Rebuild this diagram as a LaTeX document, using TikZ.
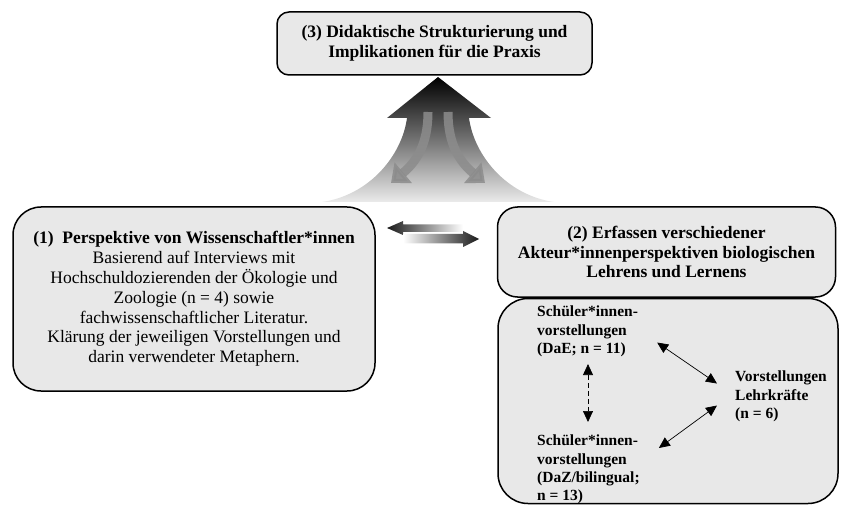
\documentclass[tikz,border=0pt]{standalone}
\usepackage{fontspec}
\setmainfont{Liberation Serif}
\usetikzlibrary{arrows.meta, calc, positioning}

\begin{document}
\begin{tikzpicture}[x=1pt, y=-1pt]
    % Setup the styles for the boxes
        \tikzset{box style/.style={draw, rounded corners=#1,
                                   line width=1.5pt,
                                   fill=black!9,
                                   inner sep=0pt,
                                   align=center,
                                   font=\fontsize{17.5}{19.8}\selectfont},
                 label style/.style={inner sep=0pt,
                                     align=left,
                                     font=\fontsize{15.5}{18.3}\selectfont\bfseries},
                 link style/.style={line width=0.7pt,
                                    {Triangle[length=11pt,width=10pt]}-{Triangle[length=11pt,width=10pt]}},
                 bend arrow/.style={line width=9pt, draw=black!45, opacity=0.85,
                                    -{Triangle[length=16pt,width=26pt]}}}
        \useasboundingbox (0,0) rectangle (841,505);
        % Big arrow behind the top box
        \shade[top color=black, bottom color=black!8, middle color=black!55]
            (322,202) .. controls (370,195) and (402,155) .. (407,118)
            -- (387,118) -- (438,77) -- (491,118) -- (469,118)
            .. controls (474,155) and (506,195) .. (554,202) -- cycle;
        \draw[bend arrow] (428,112) .. controls (428,145) and (416,162) .. (391,183);
        \draw[bend arrow] (448,112) .. controls (448,145) and (460,162) .. (485,183);
        % Draw the boxes
        \node[box style=12pt, minimum width=315pt, minimum height=63pt]
            at (434.5,43.5) (praxis)
            {\bfseries (3) Didaktische Strukturierung und\\
             \bfseries Implikationen für die Praxis};
        \node[box style=28pt, minimum width=362pt, minimum height=184pt]
            at (194,299) (wiss)
            {\bfseries (1)\enspace Perspektive von Wissenschaftler*innen\\
             Basierend auf Interviews mit\\
             Hochschuldozierenden der Ökologie und\\
             Zoologie (n = 4) sowie\\
             fachwissenschaftlicher Literatur.\\
             Klärung der jeweiligen Vorstellungen und\\
             darin verwendeter Metaphern.};
        \node[box style=20pt, minimum width=338pt, minimum height=90pt]
            at (666.5,252) (akteur)
            {\bfseries (2) Erfassen verschiedener\\
             \bfseries Akteur*innenperspektiven biologischen\\
             \bfseries Lehrens und Lernens};
        \node[box style=30pt, minimum width=340pt, minimum height=205pt]
            at (668,401) (inner) {};
        % Two block arrows between (1) and (2)
        \shade[left color=black!90, right color=white]
            (387,228) -- (403,221) -- (403,224.5) -- (463,224.5)
            -- (463,232) -- (403,232) -- (403,235) -- cycle;
        \shade[left color=white, right color=black!90]
            (403,234) -- (463,234) -- (463,231) -- (479,239)
            -- (463,247) -- (463,243.5) -- (403,243.5) -- cycle;
        % Draw the perspectives
        \node[label style, anchor=north west] at (537,306) (dae)
            {Schüler*innen-\\vorstellungen\\(DaE; n = 11)};
        \node[label style, anchor=north west] at (735,371) (lehr)
            {Vorstellungen\\Lehrkräfte\\(n = 6)};
        \node[label style, anchor=north west] at (537,435) (daz)
            {Schüler*innen-\\vorstellungen\\(DaZ/bilingual;\\n = 13)};
        % Connect the perspectives
        \draw[link style] ($(dae.east)+(19,11)$) -- ($(lehr.west)+(-18,-13)$);
        \draw[link style] ($(daz.north east)+(19,13)$) -- ($(lehr.west)+(-18,9)$);
        \draw[link style, dash pattern=on 5pt off 3pt]
            ($(dae.south west)+(51,7)$) -- ($(daz.north west)+(51,-13)$);
\end{tikzpicture}
\end{document}
